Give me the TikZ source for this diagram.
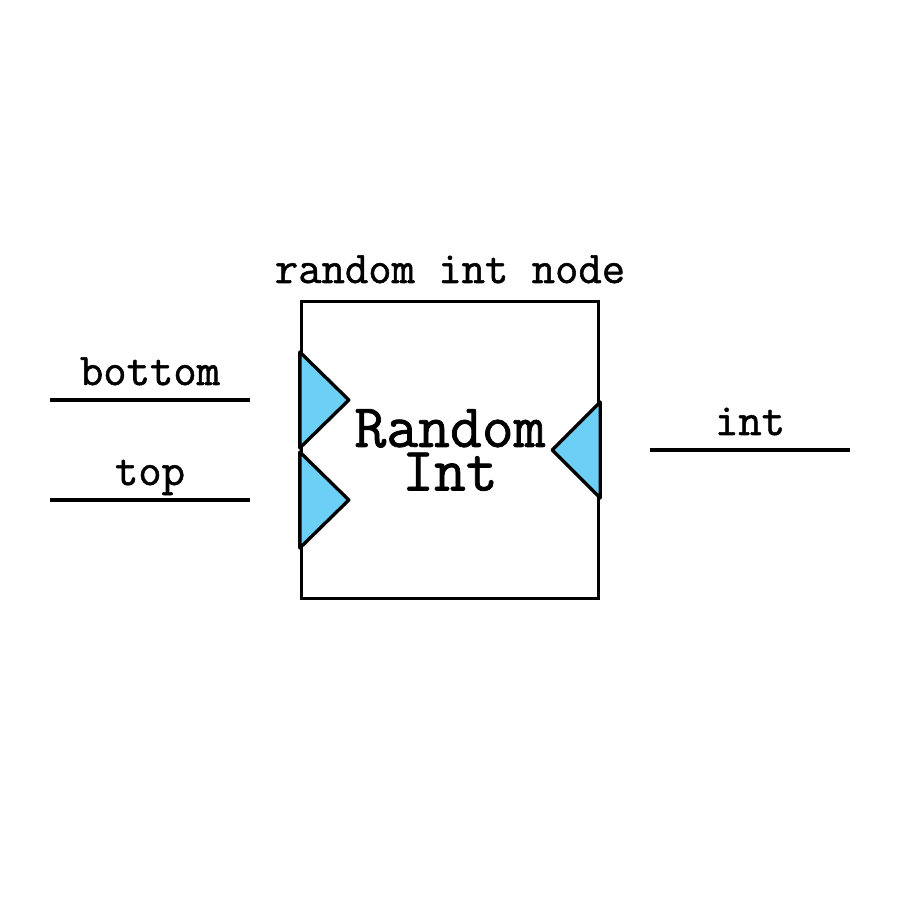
\documentclass[tikz,border=0pt]{standalone}
\usepackage{fontspec}
\newfontfamily\codefont[FakeBold=1.2]{Latin Modern Mono}
\definecolor{portblue}{HTML}{6CCFF6}
\tikzset{
  edge/.style={line width=0.95pt},
  port/.style={fill=portblue, draw=black, line width=0.95pt, line join=round},
  lbl/.style={font=\codefont\fontsize{12.9}{13}\selectfont, anchor=base, inner sep=0pt}
}
\begin{document}
\begin{tikzpicture}

\useasboundingbox (0,0) rectangle (9,9);

% Bloque
\node[draw, line width=0.95pt, minimum size=2.97cm, inner sep=0pt, align=center,
  font=\codefont\fontsize{17.6}{12.4}\selectfont] (rnd) at (4.5,4.5) {Random\\Int};
\node[lbl] (name) at (4.5,6.17) {random int node};

% Puertos
\draw[port] (rnd.west) ++(0,0.98) -- ++(0.49,-0.48) -- ++(-0.49,-0.48) -- cycle;
\draw[port] (rnd.west) ++(0,-0.02) -- ++(0.49,-0.48) -- ++(-0.49,-0.48) -- cycle;
\draw[port] (rnd.east) ++(0,0.48) -- ++(-0.48,-0.48) -- ++(0.48,-0.48) -- cycle;

% Lineas
\coordinate (b1) at (0.5,5);
\coordinate (b2) at (2.5,5);
\coordinate (t1) at (0.5,4);
\coordinate (t2) at (2.5,4);
\coordinate (i1) at (6.5,4.5);
\coordinate (i2) at (8.5,4.5);
\draw[edge] (b1) -- (b2);
\draw[edge] (t1) -- (t2);
\draw[edge] (i1) -- (i2);

% Etiquetas
\node[lbl] (bottom) at (1.5,5.15) {bottom};
\node[lbl] (top) at (1.5,4.15) {top};
\node[lbl] (int) at (7.5,4.65) {int};

\end{tikzpicture}
\end{document}
